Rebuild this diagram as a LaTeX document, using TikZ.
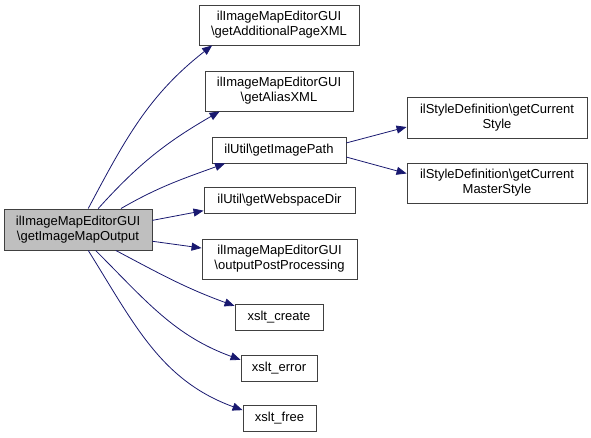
\documentclass[tikz,border=0pt]{standalone}
\usepackage{fontspec}
\setmainfont{Liberation Sans}
\usepackage{xcolor}
\usepackage{tikz}
\usetikzlibrary{arrows.meta}
\definecolor{edgeblue}{HTML}{191970}
\definecolor{boxline}{HTML}{404040}
\definecolor{mainfill}{HTML}{BFBFBF}

\begin{document}
\begin{tikzpicture}[x=1pt,y=1pt,
        fn/.style={draw=boxline,line width=0.9pt,fill=white,align=center,inner sep=0pt,
                   font=\fontsize{13}{15}\selectfont,minimum height=#1},
        fn/.default=26pt,
        call/.style={edgeblue,line width=0.8pt,-{Triangle[length=10pt,width=8pt]}}]
        \useasboundingbox (0,0) rectangle (591,438);

        %%% NODES %%%
        \node[fn=41pt,fill=mainfill,minimum width=148pt] (main) at (78,208.5) {ilImageMapEditorGUI\\\textbackslash getImageMapOutput};
        \node[fn=40pt,minimum width=160pt] (addxml) at (279,413) {ilImageMapEditorGUI\\\textbackslash getAdditionalPageXML};
        \node[fn=40pt,minimum width=148pt] (aliasxml) at (279,347) {ilImageMapEditorGUI\\\textbackslash getAliasXML};
        \node[fn,minimum width=134pt] (imgpath) at (279,288) {ilUtil\textbackslash getImagePath};
        \node[fn,minimum width=151pt] (webdir) at (279.5,238) {ilUtil\textbackslash getWebspaceDir};
        \node[fn=40pt,minimum width=155pt] (postproc) at (279.5,179) {ilImageMapEditorGUI\\\textbackslash outputPostProcessing};
        \node[fn,minimum width=88pt] (xcreate) at (279,121) {xslt\_create};
        \node[fn,minimum width=76pt] (xerror) at (279,70) {xslt\_error};
        \node[fn,minimum width=73pt] (xfree) at (279.5,20) {xslt\_free};
        \node[fn=41pt,minimum width=180pt] (curstyle) at (497,320.5) {ilStyleDefinition\textbackslash getCurrent\\Style};
        \node[fn=40pt,minimum width=180pt] (curmaster) at (497,255) {ilStyleDefinition\textbackslash getCurrent\\MasterStyle};

        %%% CALLS %%%
        \draw[call] (main.64) to[out=62,in=218] (addxml.197);
        \draw[call] (main.46) to[out=48,in=210] (aliasxml.199);
        \draw[call] (main.26) to[out=30,in=200] (imgpath.194);
        \draw[call] (main.7) -- (webdir.188);
        \draw[call] (main.351) -- (postproc.172);
        \draw[call] (main.331) to[out=-28,in=160] (xcreate.166);
        \draw[call] (main.310) to[out=-45,in=160] (xerror.168);
        \draw[call] (main.296) to[out=-58,in=160] (xfree.168);

        %%% SECOND LEVEL %%%
        \draw[call] (imgpath.6) -- (curstyle.186);
        \draw[call] (imgpath.354) -- (curmaster.174);
\end{tikzpicture}
\end{document}
